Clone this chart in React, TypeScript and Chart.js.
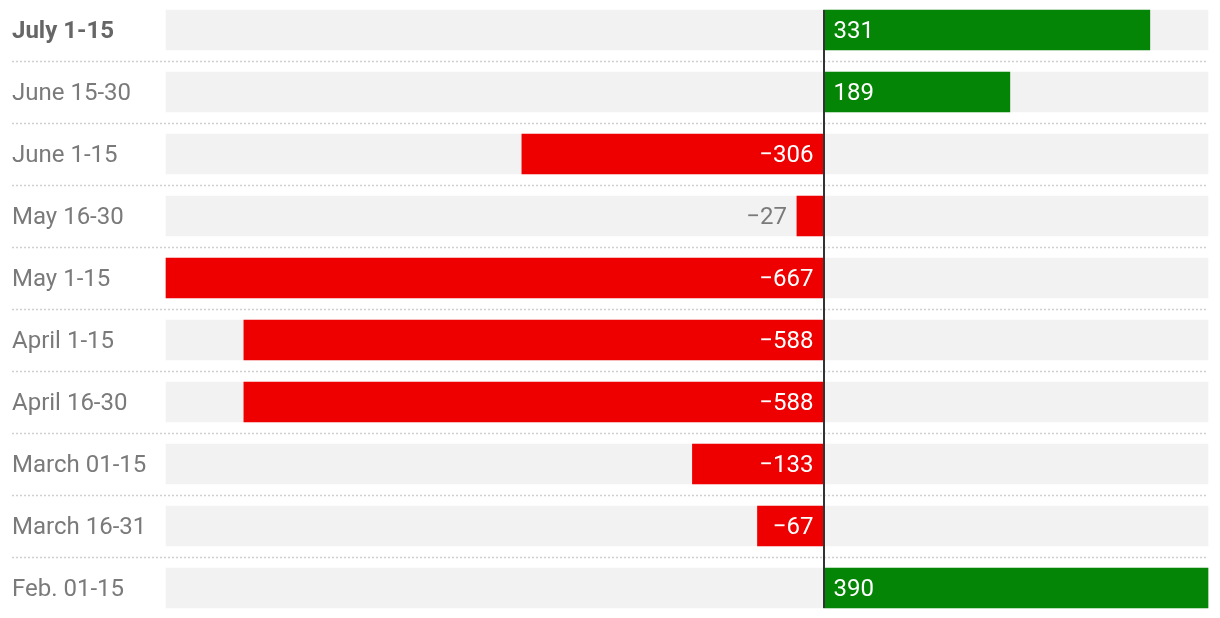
import React, { useEffect, useRef } from "react";
import { Chart, registerables } from "chart.js";

Chart.register(...registerables);

const categories = [
  "July 1-15",
  "June 15-30",
  "June 1-15",
  "May 16-30",
  "May 1-15",
  "April 1-15",
  "April 16-30",
  "March 01-15",
  "March 16-31",
  "Feb. 01-15",
];
const values = [331, 189, -306, -27, -667, -588, -588, -133, -67, 390];
const highlighted = ["July 1-15"];
const axisMin = -667;
const axisMax = 390;

const FONT = "Roboto";
const POS_COLOR = "#058505";
const NEG_COLOR = "#ee0000";
const BG_COLOR = "#f2f2f2";
const LABEL_COLOR = "#7a7a7a";

const fmt = (v: number) => (v < 0 ? "\u2212" + Math.abs(v) : String(v));

const overlayPlugin = {
  id: "overlay",
  beforeDatasetsDraw(chart: any) {
    const ctx = chart.ctx;
    const ys = chart.scales.y;
    const xs = chart.scales.x;
    ctx.save();
    ctx.strokeStyle = "#d0d0d0";
    ctx.lineWidth = 1.5;
    ctx.setLineDash([2, 2]);
    for (let i = 0; i < categories.length - 1; i++) {
      const yy = Math.round((ys.getPixelForValue(i) + ys.getPixelForValue(i + 1)) / 2) + 0.5;
      ctx.beginPath();
      ctx.moveTo(12, yy);
      ctx.lineTo(xs.right, yy);
      ctx.stroke();
    }
    ctx.restore();
  },
  afterDatasetsDraw(chart: any) {
    const ctx = chart.ctx;
    const ys = chart.scales.y;
    const xs = chart.scales.x;
    const meta = chart.getDatasetMeta(0);
    ctx.save();
    // category labels
    ctx.textBaseline = "middle";
    categories.forEach((c, i) => {
      const bold = highlighted.includes(c);
      ctx.font = `${bold ? "bold " : ""}24px ${FONT}`;
      ctx.fillStyle = bold ? "#666666" : LABEL_COLOR;
      ctx.textAlign = "left";
      ctx.fillText(c, 12, ys.getPixelForValue(i) + 2);
    });
    // value labels
    ctx.font = `24px ${FONT}`;
    meta.data.forEach((bar: any, i: number) => {
      const v = values[i];
      const text = fmt(v);
      const tw = ctx.measureText(text).width;
      const width = Math.abs(bar.x - bar.base);
      const y = bar.y + 2;
      if (v >= 0) {
        ctx.textAlign = "left";
        if (width > tw + 20) {
          ctx.fillStyle = "#ffffff";
          ctx.fillText(text, bar.base + 10, y);
        } else {
          ctx.fillStyle = LABEL_COLOR;
          ctx.fillText(text, bar.x + 10, y);
        }
      } else {
        ctx.textAlign = "right";
        if (width > tw + 20) {
          ctx.fillStyle = "#ffffff";
          ctx.fillText(text, bar.base - 10, y);
        } else {
          ctx.fillStyle = LABEL_COLOR;
          ctx.fillText(text, bar.x - 10, y);
        }
      }
    });
    // zero line
    const x0 = Math.round(xs.getPixelForValue(0));
    const half = 20;
    ctx.strokeStyle = "#333333";
    ctx.lineWidth = 2;
    ctx.beginPath();
    ctx.moveTo(x0, ys.getPixelForValue(0) - half);
    ctx.lineTo(x0, ys.getPixelForValue(categories.length - 1) + half);
    ctx.stroke();
    ctx.restore();
  },
};

export default function App() {
  const ref = useRef<HTMLCanvasElement | null>(null);
  useEffect(() => {
    if (!ref.current) return;
    const chart = new Chart(ref.current, {
      type: "bar",
      data: {
        labels: categories,
        datasets: [
          {
            data: values,
            backgroundColor: values.map((v) => (v >= 0 ? POS_COLOR : NEG_COLOR)),
            barThickness: 40,
            grouped: false,
            clip: false,
            borderWidth: 0,
          } as any,
          {
            data: categories.map(() => [axisMin, axisMax]),
            backgroundColor: BG_COLOR,
            barThickness: 40,
            grouped: false,
            clip: false,
            borderWidth: 0,
          } as any,
        ],
      },
      options: {
        indexAxis: "y",
        animation: false,
        responsive: false,
        layout: { padding: { left: 166, right: 12, top: 30, bottom: 30 } },
        plugins: { legend: { display: false }, tooltip: { enabled: false } },
        scales: {
          x: { min: axisMin, max: axisMax, display: false },
          y: { type: "category", offset: false, display: false },
        },
      } as any,
      plugins: [overlayPlugin],
    });
    return () => chart.destroy();
  }, []);
  return (
    <div style={{ position: "absolute", left: 0, top: 0, width: 1220, height: 618 }}>
      <canvas ref={ref} width={1220} height={618} style={{ display: "block" }} />
    </div>
  );
}
